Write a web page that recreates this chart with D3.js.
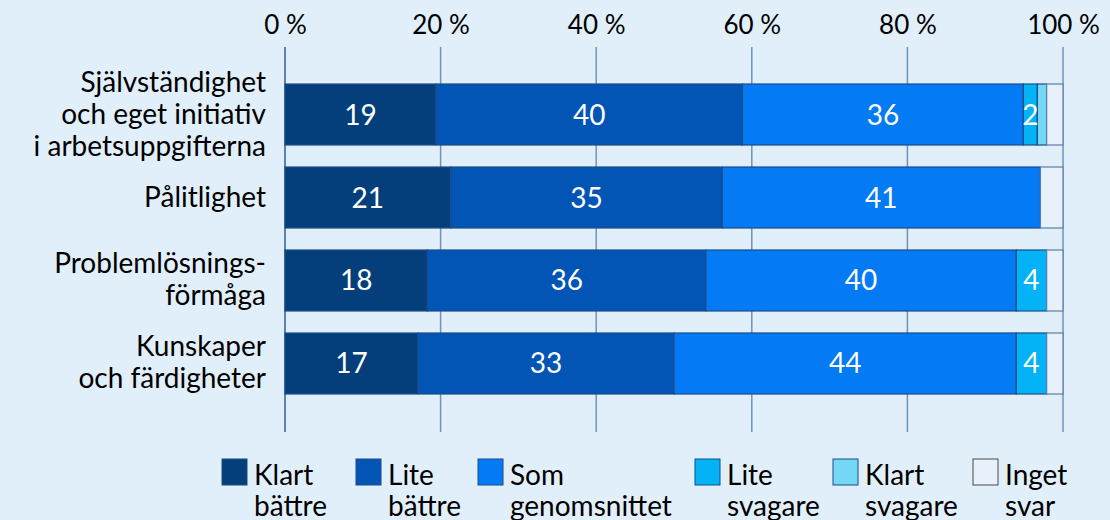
<!DOCTYPE html>
<html>
<head>
<meta charset="utf-8">
<script src="https://cdn.jsdelivr.net/npm/d3@7"></script>
<style>
  body { margin: 0; background: #e1effb; }
  svg { display: block; font-family: Lato, "Open Sans", sans-serif; }
</style>
</head>
<body>
<script>
// kategorier (rader), flera rader per etikett
var categories = [
  ["Självständighet", "och eget initiativ", "i arbetsuppgifterna"],
  ["Pålitlighet"],
  ["Problemlösnings-", "förmåga"],
  ["Kunskaper", "och färdigheter"]
];

var seriesNames = [
  ["Klart", "bättre"],
  ["Lite", "bättre"],
  ["Som", "genomsnittet"],
  ["Lite", "svagare"],
  ["Klart", "svagare"],
  ["Inget", "svar"]
];
var seriesColors = ["#043f7c", "#0254b5", "#047af5", "#03b3f5", "#73d7f5", "#e6f1fb"];

// andelar i procent per serie (en post per kategori)
var klartBattre     = [19.4, 21.3, 18.3, 17.1];
var liteBattre      = [39.4, 34.9, 35.8, 32.9];
var somGenomsnitt   = [36.1, 40.9, 39.9, 44.0];
var liteSvagare     = [1.8, 0, 3.9, 3.9];
var klartSvagare    = [1.2, 0, 0, 0];
var ingetSvar       = [2.1, 2.9, 2.1, 2.1];

// tal som skrivs ut i staplarna
var labelKlartBattre   = ["19", "21", "18", "17"];
var labelLiteBattre    = ["40", "35", "36", "33"];
var labelSomGenomsnitt = ["36", "41", "40", "44"];
var labelLiteSvagare   = ["2", "", "4", "4"];

var tickValues = [0, 20, 40, 60, 80, 100];

var series = [klartBattre, liteBattre, somGenomsnitt, liteSvagare, klartSvagare, ingetSvar];
var seriesLabels = [labelKlartBattre, labelLiteBattre, labelSomGenomsnitt, labelLiteSvagare, null, null];

var width = 1110, height = 520;
var svg = d3.select("body").append("svg").attr("width", width).attr("height", height);

var x = d3.scaleLinear().domain([0, 100]).range([285, 1063]);
var y = d3.scaleBand().domain(d3.range(categories.length)).range([84, 394]).paddingInner(0.265).paddingOuter(0);

// rutnät
svg.append("g").selectAll("line").data(tickValues).enter().append("line")
  .attr("x1", function(d) { return x(d); }).attr("x2", function(d) { return x(d); })
  .attr("y1", 47).attr("y2", 432)
  .attr("stroke", function(d) { return d === 0 ? "#2c5f9a" : "#6e93bd"; })
  .attr("stroke-width", 1.5);

// x-axel överst
var xAxis = d3.axisTop(x).tickValues(tickValues).tickSize(0).tickPadding(0)
  .tickFormat(function(d) { return d + " %"; });
var gx = svg.append("g").attr("transform", "translate(0,34)").call(xAxis);
gx.select(".domain").remove();
gx.selectAll("text").attr("font-size", 26).attr("fill", "#000").attr("font-family", "Lato, sans-serif");

// staplar
var rows = categories.map(function(c, i) {
  var acc = 0;
  return series.map(function(s, k) {
    var seg = { row: i, k: k, x0: acc, x1: acc + s[i], label: seriesLabels[k] ? seriesLabels[k][i] : "" };
    acc += s[i];
    return seg;
  });
});
var segs = [].concat.apply([], rows).filter(function(d) { return d.x1 > d.x0; });

svg.append("g").selectAll("rect").data(segs).enter().append("rect")
  .attr("x", function(d) { return x(d.x0); })
  .attr("width", function(d) { return x(d.x1) - x(d.x0); })
  .attr("y", function(d) { return y(d.row); })
  .attr("height", y.bandwidth())
  .attr("fill", function(d) { return seriesColors[d.k]; })
  .attr("stroke", function(d) { return d.k === 5 ? "#5a7ea8" : "#1b4d86"; })
  .attr("stroke-width", 1.2);

svg.append("g").selectAll("text").data(segs.filter(function(d) { return d.label; })).enter().append("text")
  .attr("x", function(d) { return (x(d.x0) + x(d.x1)) / 2; })
  .attr("y", function(d) { return y(d.row) + y.bandwidth() / 2 + 10; })
  .attr("text-anchor", "middle")
  .attr("font-size", 28)
  .attr("fill", "#fff")
  .text(function(d) { return d.label; });

// kategorietiketter
var lineH = 32;
categories.forEach(function(lines, i) {
  var cy = y(i) + y.bandwidth() / 2;
  var t = svg.append("text").attr("text-anchor", "end").attr("font-size", 28).attr("fill", "#000");
  lines.forEach(function(l, j) {
    t.append("tspan").attr("x", 266)
      .attr("y", cy + 9 + (j - (lines.length - 1) / 2) * lineH)
      .text(l);
  });
});

// teckenförklaring
var legendX = [222, 356, 478, 695, 833, 973];
var leg = svg.append("g").selectAll("g").data(seriesNames).enter().append("g")
  .attr("transform", function(d, i) { return "translate(" + legendX[i] + ",459)"; });
leg.append("rect").attr("width", 25).attr("height", 26)
  .attr("fill", function(d, i) { return seriesColors[i]; })
  .attr("stroke", function(d, i) { return i === 5 ? "#4a4a4a" : "#1b4d86"; })
  .attr("stroke-width", 1);
leg.append("text").attr("font-size", 28).attr("fill", "#000")
  .selectAll("tspan").data(function(d) { return d; }).enter().append("tspan")
  .attr("x", 32).attr("y", function(d, j) { return 26 + j * 31; })
  .text(function(d) { return d; });
</script>
</body>
</html>
